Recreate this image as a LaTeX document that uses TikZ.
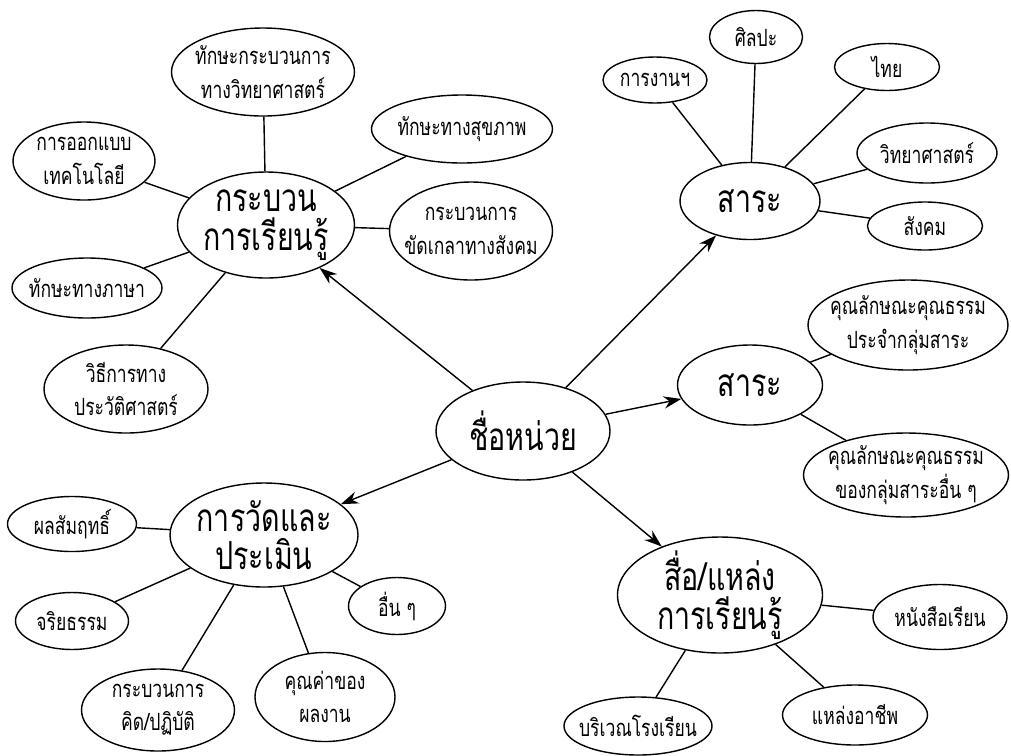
\documentclass[tikz,border=0pt]{standalone}
\usepackage{fontspec}
\setmainfont[Script=Thai]{Loma}
\newfontfamily\smallthai[Script=Thai,FakeStretch=0.74]{Loma}
\newfontfamily\bigthai[Script=Thai,FakeStretch=0.74]{Loma}
\usetikzlibrary{shapes.geometric,arrows.meta}
\tikzset{
  E/.style 2 args={ellipse, draw, line width=0.8pt, inner xsep=-30pt, inner ysep=-12pt,
    minimum width=#1*0.02cm, minimum height=#2*0.02cm, align=center},
  small/.style={font=\smallthai\fontsize{13.5}{19}\selectfont},
  big/.style={font=\bigthai\fontsize{22}{22}\selectfont},
  link/.style={line width=0.8pt},
  arr/.style={line width=0.8pt, -{Stealth[length=10pt,width=7pt]}}
}
\begin{document}
\begin{tikzpicture}[x=0.02cm,y=-0.02cm]
\useasboundingbox (0,0) rectangle (1011,755);
% centre
\node[E={174}{98}, big] (c) at (523,431) {ชื่อหน่วย};
% hubs
\node[E={177}{106}, big] (h1) at (266,225) {กระบวน\\การเรียนรู้};
\node[E={140}{77}, big] (h2) at (750,201) {สาระ};
\node[E={145}{80}, big] (h3) at (750,385) {สาระ};
\node[E={188}{104}, big] (h4) at (264,535) {การวัดและ\\ประเมิน};
\node[E={205}{116}, big] (h5) at (720,595) {สื่อ/แหล่ง\\การเรียนรู้};
% satellites of h1
\node[E={183}{88}, small] (a1) at (263,72) {ทักษะกระบวนการ\\ทางวิทยาศาสตร์};
\node[E={142}{78}, small] (a2) at (84,161) {การออกแบบ\\เทคโนโลยี};
\node[E={181}{68}, small] (a3) at (462,129) {ทักษะทางสุขภาพ};
\node[E={163}{98}, small] (a4) at (471,231) {กระบวนการ\\ขัดเกลาทางสังคม};
\node[E={150}{60}, small] (a5) at (87,288) {ทักษะทางภาษา};
\node[E={164}{88}, small] (a6) at (126,389) {วิธีการทาง\\ประวัติศาสตร์};
% satellites of h2
\node[E={104}{46}, small] (b1) at (655,80) {การงานฯ};
\node[E={93}{53}, small] (b2) at (756,37) {ศิลปะ};
\node[E={105}{47}, small] (b3) at (887,67) {ไทย};
\node[E={140}{60}, small] (b4) at (927,153) {วิทยาศาสตร์};
\node[E={115}{48}, small] (b5) at (925,226) {สังคม};
% satellites of h3
\node[E={200}{90}, small] (d1) at (908,325) {คุณลักษณะคุณธรรม\\ประจำกลุ่มสาระ};
\node[E={205}{84}, small] (d2) at (906,475) {คุณลักษณะคุณธรรม\\ของกลุ่มสาระอื่น ๆ};
% satellites of h4
\node[E={129}{55}, small] (e1) at (72,524) {ผลสัมฤทธิ์};
\node[E={113}{57}, small] (e2) at (72,621) {จริยธรรม};
\node[E={153}{82}, small] (e3) at (158,710) {กระบวนการ\\คิด/ปฏิบัติ};
\node[E={140}{89}, small] (e4) at (325,697) {คุณค่าของ\\ผลงาน};
\node[E={97}{57}, small] (e5) at (397,606) {อื่น ๆ};
% satellites of h5
\node[E={134}{65}, small] (f1) at (940,617) {หนังสือเรียน};
\node[E={145}{60}, small] (f2) at (855,715) {แหล่งอาชีพ};
\node[E={148}{58}, small] (f3) at (638,726) {บริเวณโรงเรียน};
% arrows
\draw[arr] (c) -- (h1);
\draw[arr] (c) -- (h2);
\draw[arr] (c) -- (h3);
\draw[arr] (c) -- (h4);
\draw[arr] (c) -- (h5);
% links
\foreach \s in {a1,a2,a3,a4,a5,a6} \draw[link] (h1) -- (\s);
\foreach \s in {b1,b2,b3,b4,b5} \draw[link] (h2) -- (\s);
\foreach \s in {d1,d2} \draw[link] (h3) -- (\s);
\foreach \s in {e1,e2,e3,e4,e5} \draw[link] (h4) -- (\s);
\foreach \s in {f1,f2,f3} \draw[link] (h5) -- (\s);
\end{tikzpicture}
\end{document}
